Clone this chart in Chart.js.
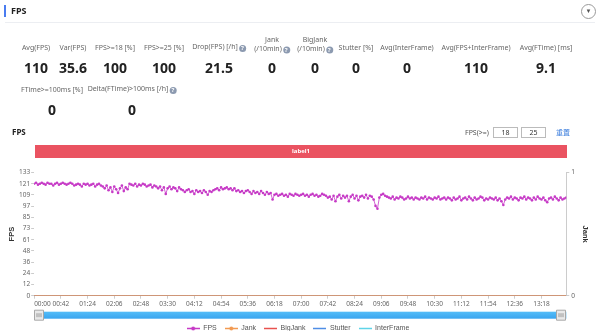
<!DOCTYPE html>
<html><head><meta charset="utf-8">
<script src="https://cdn.jsdelivr.net/npm/chart.js@4.4.1/dist/chart.umd.min.js"></script>
<style>
html,body{margin:0;padding:0;background:#fff;width:600px;height:331px;overflow:hidden;font-family:"Noto Sans","Open Sans",sans-serif;}
#root{position:absolute;left:0;top:0;width:600px;height:331px;overflow:hidden;opacity:0.999;}
.abs{position:absolute;white-space:nowrap;}
.lbl{font-size:7px;color:#666;transform:translate(-50%,-50%);text-align:center;line-height:9px;}
.val{font-size:14px;font-weight:bold;color:#222;transform:translate(-50%,-50%);line-height:16px;}
.q{display:inline-block;width:7px;height:7px;border-radius:50%;background:#8c9ab0;color:#fff;font-size:6px;line-height:7px;text-align:center;vertical-align:-1px;margin-left:1px;font-weight:bold;}
.inp{position:absolute;height:9px;border:1px solid #bbb;font-size:7px;line-height:9px;text-align:center;color:#333;background:#fff;}
</style></head>
<body>
<div id="root">
<div class="abs" style="left:4px;top:5px;width:2px;height:12px;background:#4a7cf0;"></div>
<div class="abs" style="left:11px;top:4px;font-size:9px;font-weight:bold;color:#222;line-height:14px;">FPS</div>
<div class="abs" style="left:581px;top:4px;width:13px;height:13px;border:1px solid #999;border-radius:50%;font-size:6px;color:#555;text-align:center;line-height:13px;">▼</div>
<div class="abs" style="left:5px;top:22px;width:590px;height:1px;background:#eceef2;"></div>
<div id="stats"></div>
<div class="abs" style="left:12px;top:126px;font-size:8px;font-weight:bold;color:#222;line-height:12px;">FPS</div>
<div class="abs" style="left:465px;top:128px;font-size:7px;color:#555;line-height:9px;">FPS(&gt;=)</div>
<div class="inp" style="left:493px;top:127px;width:23px;">18</div>
<div class="inp" style="left:521px;top:127px;width:23px;">25</div>
<div class="abs" style="left:556px;top:127px;font-size:7px;color:#3b7ddd;line-height:10px;font-family:'Noto Sans CJK SC';">重置</div>
<div class="abs" style="left:35px;top:145px;width:532px;height:13px;background:#ea5361;color:#fff;font-size:6px;font-weight:bold;text-align:center;line-height:13px;">label1</div>
<div class="abs" style="left:0;top:160px;width:600px;height:182px;"><canvas id="c" width="600" height="182"></canvas></div>
</div>
<script>
// ---- summary stats ----
const statLabels = ['Avg(FPS)','Var(FPS)','FPS>=18 [%]','FPS>=25 [%]','Drop(FPS) [/h]','Jank\n(/10min)','BigJank\n(/10min)','Stutter [%]','Avg(InterFrame)','Avg(FPS+InterFrame)','Avg(FTime) [ms]'];
const statHelp = [false,false,false,false,true,true,true,false,false,false,false];
const statValues = ['110','35.6','100','100','21.5','0','0','0','0','110','9.1'];
const statX = [36,73,115,164,219,272,315,356,407,476,546];
const stat2Labels = ['FTime>=100ms [%]','Delta(FTime)>100ms [/h]'];
const stat2Help = [false,true];
const stat2Values = ['0','0'];
const stat2X = [52,132];

// ---- series (one FPS sample every 3 s) ----
const SAMPLE_STEP = 3;
const fpsValues = [
121,122,120,121,122,121,120,122,121,121,119,121,122,120,121,122,121,120,121,122,
121,119,120,121,120,118,121,120,121,119,120,121,118,120,121,119,118,116,119,114,
117,112,118,115,111,116,119,113,117,115,121,120,119,121,118,120,119,121,120,118,
119,120,117,119,118,116,118,114,117,110,116,118,115,117,116,113,117,115,114,112,
114,115,112,113,110,114,112,113,111,114,112,109,113,112,114,115,116,114,117,115,
116,117,115,116,114,116,113,114,112,113,111,113,114,112,110,113,111,112,110,113,
111,109,112,110,111,104,109,110,108,109,110,108,109,107,110,109,108,110,109,108,
109,110,108,109,107,109,110,108,109,107,108,110,109,108,106,107,104,108,102,107,
109,105,108,106,108,102,107,109,105,108,103,107,108,106,109,105,108,107,104,97,
94,106,109,110,108,107,106,105,107,104,106,105,107,106,104,105,107,105,106,104,
106,105,104,106,105,107,104,106,105,104,106,105,107,104,105,106,104,106,105,103,
106,104,105,107,103,105,106,104,107,105,103,106,104,105,107,106,103,105,104,106,
105,104,106,103,105,102,98,104,106,105,107,104,106,105,103,106,105,107,104,106,
105,103,106,104,107,105,104,106,103,101,105,106,104,107,105,103,106,104,105,106
];
// Jank / BigJank / Stutter / InterFrame read 0 at every sample
const jankValues = fpsValues.map(() => 0);
const bigJankValues = fpsValues.map(() => 0);
const stutterValues = fpsValues.map(() => 0);
const interFrameValues = fpsValues.map(() => 0);

const xTickLabels = ['00:00','00:42','01:24','02:06','02:48','03:30','04:12','04:54','05:36','06:18','07:00','07:42','08:24','09:06','09:48','10:30','11:12','11:54','12:36','13:18'];
const X_TICK_STEP = 42;
const X_MAX = 837;
const yTickLabels = ['0','12','24','36','48','61','73','85','97','109','121','133'];
const Y_TICK_STEP = 12.1;
const y1TickLabels = ['0','1'];

// ---- stats DOM ----
const st = document.getElementById('stats');
function addStat(label, help, value, x, ly, vy) {
  const l = document.createElement('div');
  l.className = 'abs lbl';
  l.style.left = x + 'px'; l.style.top = ly + 'px';
  const parts = label.split('\n');
  l.innerHTML = parts.map((p, i) => p.replace(/</g,'&lt;').replace(/>/g,'&gt;') + (help && i === parts.length - 1 ? '<span class="q">?</span>' : '')).join('<br>');
  st.appendChild(l);
  const v = document.createElement('div');
  v.className = 'abs val';
  v.style.left = x + 'px'; v.style.top = vy + 'px';
  v.textContent = value;
  st.appendChild(v);
}
statLabels.forEach((s, i) => addStat(s, statHelp[i], statValues[i], statX[i], s.includes('\n') ? 44 : 47, 68));
stat2Labels.forEach((s, i) => addStat(s, stat2Help[i], stat2Values[i], stat2X[i], 89, 110));

// ---- legend marker images ----
function marker(color, dot) {
  const c = document.createElement('canvas');
  c.width = 13; c.height = 7;
  const g = c.getContext('2d');
  g.strokeStyle = color; g.lineWidth = 1.5;
  g.beginPath(); g.moveTo(0, 3.5); g.lineTo(13, 3.5); g.stroke();
  if (dot) { g.fillStyle = color; g.beginPath(); g.arc(6.5, 3.5, 2, 0, Math.PI * 2); g.fill(); }
  return c;
}
const COLORS = {fps:'#c63ac6', jank:'#f29a52', bigJank:'#e8524f', stutter:'#4f8ee6', inter:'#5fd4e8'};
const markers = [marker(COLORS.fps, true), marker(COLORS.jank, true), marker(COLORS.bigJank, false), marker(COLORS.stutter, false), marker(COLORS.inter, false)];

const toPts = arr => arr.map((v, i) => ({x: i * SAMPLE_STEP, y: v}));

const sliderPlugin = {
  id: 'slider',
  afterDraw(chart) {
    const ctx = chart.ctx, x = chart.scales.x;
    const top = x.top + 16, h = 7;
    const grd = ctx.createLinearGradient(0, top, 0, top + h);
    grd.addColorStop(0, '#54bdf8'); grd.addColorStop(1, '#3aa5ef');
    ctx.save();
    ctx.fillStyle = grd;
    ctx.fillRect(x.left, top, x.right - x.left, h);
    [x.left + 5, x.right - 5].forEach(cx => {
      ctx.fillStyle = '#e9e9e9'; ctx.strokeStyle = '#a8a8a8'; ctx.lineWidth = 1;
      ctx.beginPath(); ctx.rect(Math.round(cx - 5) + 0.5, top - 1.5, 9, 10); ctx.fill(); ctx.stroke();
      ctx.strokeStyle = '#999';
      ctx.beginPath();
      for (let k = -1; k <= 1; k++) { ctx.moveTo(Math.round(cx) + k * 2 , top + 1.5); ctx.lineTo(Math.round(cx) + k * 2, top + 5.5); }
      ctx.stroke();
    });
    ctx.restore();
  }
};

const tickFont = {size: 6.5, family: '"Noto Sans","Open Sans",sans-serif'};
new Chart(document.getElementById('c'), {
  type: 'line',
  data: {
    datasets: [
      {label:'FPS', data: toPts(fpsValues), borderColor: COLORS.fps, backgroundColor: COLORS.fps, borderWidth: 0.8, pointRadius: 1.3, pointBorderWidth: 0, yAxisID: 'y', tension: 0},
      {label:'Jank', data: toPts(jankValues), borderColor: '#d8a070', backgroundColor: COLORS.jank, borderWidth: 1.5, pointRadius: 0, yAxisID: 'y1'},
      {label:'BigJank', data: toPts(bigJankValues), borderColor: COLORS.bigJank, backgroundColor: COLORS.bigJank, borderWidth: 1, pointRadius: 0, yAxisID: 'y1'},
      {label:'Stutter', data: toPts(stutterValues), borderColor: COLORS.stutter, backgroundColor: COLORS.stutter, borderWidth: 1, pointRadius: 0, yAxisID: 'y1'},
      {label:'InterFrame', data: toPts(interFrameValues), borderColor: COLORS.inter, backgroundColor: COLORS.inter, borderWidth: 1, pointRadius: 0, yAxisID: 'y1'}
    ]
  },
  options: {
    responsive: false,
    animation: false,
    events: [],
    layout: {padding: {top: 12.5, left: 2, right: 6, bottom: 0}},
    scales: {
      x: {
        type: 'linear', min: 0, max: X_MAX,
        afterBuildTicks: s => { s.ticks = xTickLabels.map((l, i) => ({value: i * X_TICK_STEP})).concat([{value: X_MAX}]); },
        afterFit: s => { s.height += 6.5; },
        ticks: {callback: (v, i) => (i < xTickLabels.length ? xTickLabels[i] : ''), font: tickFont, color: '#666', padding: 2, maxRotation: 0, autoSkip: false, align: 'inner'},
        grid: {drawOnChartArea: false, tickLength: 3, color: c => (c.index < xTickLabels.length ? '#ccc' : 'rgba(0,0,0,0)')},
        border: {display: true, color: '#ccc'}
      },
      y: {
        position: 'left', min: 0, max: Y_TICK_STEP * (yTickLabels.length - 1),
        afterBuildTicks: s => { s.ticks = yTickLabels.map((l, i) => ({value: i * Y_TICK_STEP})); },
        ticks: {callback: (v, i) => yTickLabels[i], font: tickFont, color: '#666', padding: 1, autoSkip: false},
        grid: {drawOnChartArea: false, tickLength: 3, color: '#ccc'},
        border: {display: false},
        title: {display: true, text: 'FPS', font: {size: 7.5, weight: 'bold'}, color: '#333', padding: {top: 5, bottom: 2}}
      },
      y1: {
        position: 'right', min: 0, max: 1,
        afterBuildTicks: s => { s.ticks = y1TickLabels.map((l, i) => ({value: i})); },
        ticks: {callback: (v, i) => y1TickLabels[i], font: tickFont, color: '#666', padding: 2, autoSkip: false},
        grid: {drawOnChartArea: false, tickLength: 3, color: '#ccc'},
        border: {display: true, color: '#ccc'},
        title: {display: true, text: 'Jank', font: {size: 7.5, weight: 'bold'}, color: '#333', padding: {top: 4, bottom: 4}}
      }
    },
    plugins: {
      tooltip: {enabled: false},
      legend: {
        position: 'bottom',
        labels: {
          usePointStyle: true, pointStyleWidth: 13, boxHeight: 7,
          font: {size: 7}, color: '#555', padding: 8,
          generateLabels: chart => Chart.defaults.plugins.legend.labels.generateLabels(chart).map((it, i) => Object.assign(it, {pointStyle: markers[i]}))
        }
      }
    }
  },
  plugins: [sliderPlugin]
});
</script>
</body></html>
